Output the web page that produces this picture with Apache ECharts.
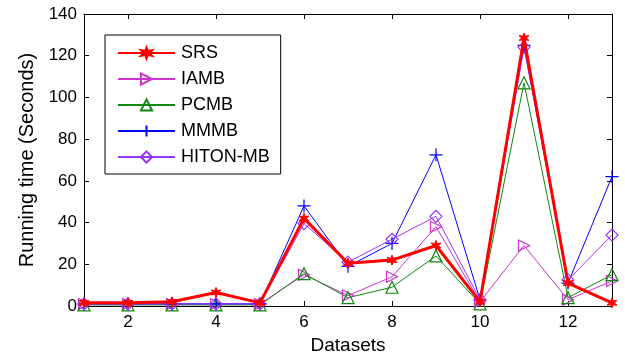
<!DOCTYPE html>
<html><head><meta charset="utf-8">
<script src="https://cdn.jsdelivr.net/npm/echarts@6/dist/echarts.min.js"></script>
<style>html,body{margin:0;padding:0;background:#fff}#c{width:625px;height:360px}</style>
</head><body><div id="c"></div>
<script>
var datasets = [1,2,3,4,5,6,7,8,9,10,11,12,13];
var srs   = [1.5,1.5,2,6.5,1.5,42,20.5,22,29,2,128.5,11,1.5];
var iamb  = [1,1,1,1,1,15,5,14,38,2,29,3,12];
var pcmb  = [0.5,0.5,0.5,0.5,0.5,15.5,4,9,24,1,107,4,15];
var mmmb  = [1,1,1,1,1,48,19,30,72.5,3,125,11,62];
var hiton = [1,1,1,1,1,39.5,21,32,43,3,124,12.5,34];
var xTicks = [2,4,6,8,10,12];
var yTicks = [0,20,40,60,80,100,120,140];

var FONT = 'Liberation Sans';
function pairs(v){ return datasets.map(function(x,i){ return [x, v[i]]; }); }
var starPath = 'path://M50,0L61,32L95,25L72,50L95,75L61,68L50,100L39,68L5,75L28,50L5,25L39,32Z';
var plusPath = 'path://M0,50L100,50M50,0L50,100';
var rightTri = 'path://M0,0L100,50L0,100Z';

function mk(name, data, color, symbol, size, width, filled){
  return {
    name: name, type: 'line', data: pairs(data),
    symbol: symbol, symbolSize: size,
    lineStyle: {color: color, width: width},
    itemStyle: filled ? {color: color, borderColor: color, borderWidth: 1}
                      : {color: 'rgba(0,0,0,0)', borderColor: color, borderWidth: 1.2},
    emphasis: {disabled: true}, animation: false, z: filled ? 5 : 3
  };
}

var chart = echarts.init(document.getElementById('c'), null, {renderer: 'canvas'});
chart.setOption({
  animation: false,
  backgroundColor: '#fff',
  grid: {left: 84, right: 13, top: 14, bottom: 52, show: false},
  legend: {
    orient: 'vertical', left: 105, top: 35,
    padding: [9, 11, 8, 12], itemGap: 8, itemWidth: 57, itemHeight: 14,
    borderColor: '#000', borderWidth: 1, backgroundColor: '#fff',
    textStyle: {fontFamily: FONT, fontSize: 18, lineHeight: 18, color: '#000', padding: [0,0,0,1]},
    data: ['SRS','IAMB','PCMB','MMMB','HITON-MB']
  },
  xAxis: [{
    type: 'value', min: 1, max: 13, name: 'Datasets', nameLocation: 'middle', nameGap: 30,
    nameTextStyle: {fontFamily: FONT, fontSize: 19, color: '#000'},
    axisLine: {show: true, onZero: false, lineStyle: {color: '#000', width: 1}},
    axisTick: {show: true, inside: true, length: 5, customValues: xTicks, lineStyle: {color: '#000'}},
    axisLabel: {customValues: xTicks, fontFamily: FONT, fontSize: 17, color: '#000', margin: 8},
    splitLine: {show: false}
  },{
    type: 'value', min: 1, max: 13, position: 'top',
    axisLine: {show: true, onZero: false, lineStyle: {color: '#000', width: 1}},
    axisTick: {show: true, inside: true, length: 5, customValues: xTicks, lineStyle: {color: '#000'}},
    axisLabel: {show: false}, splitLine: {show: false}
  }],
  yAxis: [{
    type: 'value', min: 0, max: 140, interval: 20,
    name: 'Running time (Seconds)', nameLocation: 'middle', nameGap: 47, nameRotate: 90,
    nameTextStyle: {fontFamily: FONT, fontSize: 20, color: '#000'},
    axisLine: {show: true, onZero: false, lineStyle: {color: '#000', width: 1}},
    axisTick: {show: true, inside: true, length: 5, lineStyle: {color: '#000'}},
    axisLabel: {customValues: yTicks, fontFamily: FONT, fontSize: 17, color: '#000', margin: 7},
    splitLine: {show: false}
  },{
    type: 'value', min: 0, max: 140, interval: 20, position: 'right',
    axisLine: {show: true, onZero: false, lineStyle: {color: '#000', width: 1}},
    axisTick: {show: true, inside: true, length: 5, lineStyle: {color: '#000'}},
    axisLabel: {show: false}, splitLine: {show: false}
  }],
  series: [
    mk('IAMB', iamb, '#cc33cc', rightTri, 11, 1, false),
    mk('PCMB', pcmb, '#118811', 'triangle', 12, 1, false),
    mk('MMMB', mmmb, '#0000ff', plusPath, 13, 1, false),
    mk('HITON-MB', hiton, '#9933ff', 'diamond', 12, 1, false),
    mk('SRS', srs, '#ff0000', starPath, 10, 3, true)
  ]
});
</script></body></html>
